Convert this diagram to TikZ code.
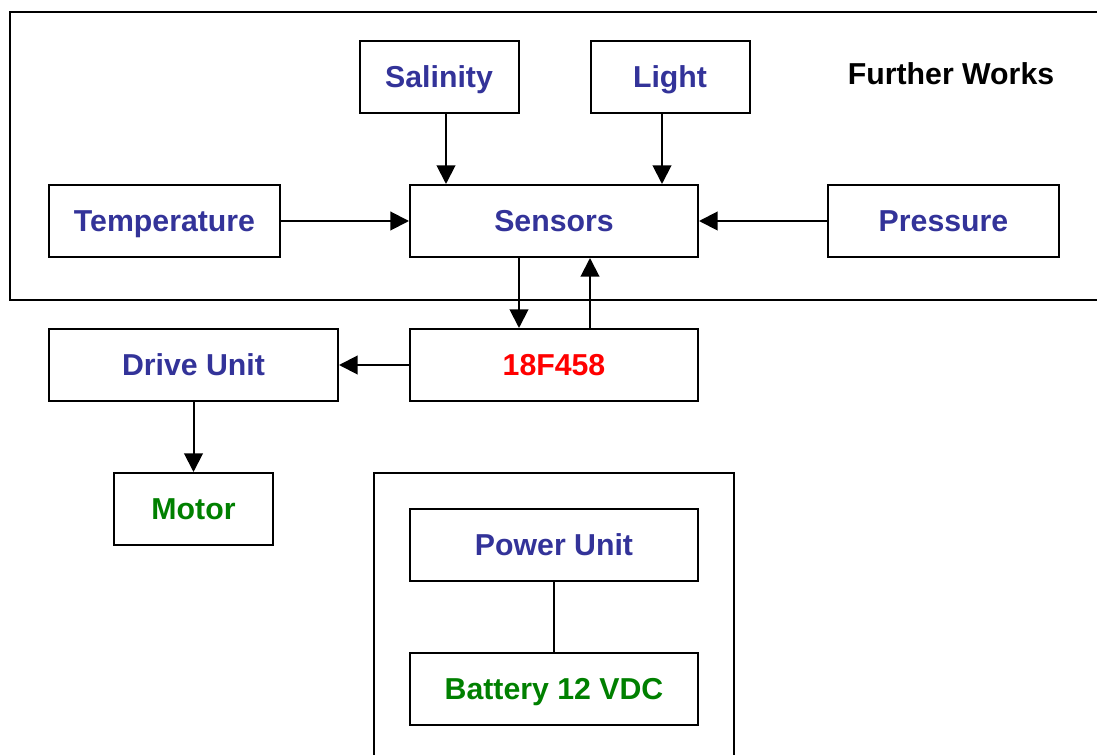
\documentclass[tikz,border=0pt]{standalone}
\usepackage{fontspec}
\setmainfont{Liberation Sans}
\usepackage{xcolor}
\definecolor{hwblue}{RGB}{51,51,153}
\definecolor{hwred}{RGB}{255,0,0}
\definecolor{hwgreen}{RGB}{0,128,0}
\usetikzlibrary{arrows.meta,positioning}
\tikzset{
  unitbox/.style={draw=black, line width=1.5pt, inner sep=0pt, minimum height=54pt, text height=16.25pt, text depth=0pt, font=\bfseries\fontsize{22.7}{27}\selectfont, text=hwblue},
  flow/.style={-{Triangle[length=14pt,width=14pt]}, line width=1.5pt},
}
\begin{document}
\begin{tikzpicture}[x=0.75pt, y=-0.75pt]
  \useasboundingbox (0,0) rectangle (1097,755);
  \clip (0,0) rectangle (1097,755);

  % Frames
  \draw[line width=1.5pt] (10,12) rectangle (1120,300);
  \draw[line width=1.5pt] (374,473) rectangle (734,780);
  \node[font=\bfseries\fontsize{22.7}{27}\selectfont, text height=16.25pt, text depth=0pt, inner sep=0pt] (fw) at (951,74) {Further Works};

  % Sensor nodes
  \node[unitbox, minimum width=119.25pt] (sal) at (439,77) {Salinity};
  \node[unitbox, minimum width=119.25pt] (light) at (670,77) {Light};
  \node[unitbox, minimum width=173.25pt] (temp) at (164.5,221) {Temperature};
  \node[unitbox, minimum width=216pt] (sens) at (554,221) {Sensors};
  \node[unitbox, minimum width=173.25pt] (pres) at (943.5,221) {Pressure};

  % Controller and drive
  \node[unitbox, minimum width=216pt, text=hwred] (mcu) at (554,365) {18F458};
  \node[unitbox, minimum width=216.75pt] (drive) at (193.5,365) {Drive Unit};
  \node[unitbox, minimum width=119.25pt, text=hwgreen] (motor) at (193.5,509) {Motor};

  % Power supply
  \node[unitbox, minimum width=216pt] (power) at (554,545) {Power Unit};
  \node[unitbox, minimum width=216pt, text=hwgreen] (batt) at (554,689) {Battery 12 VDC};

  % Arrows
  \draw[flow] ([xshift=5.25pt]sal.south) -- ([xshift=5.25pt]sal.south |- sens.north);
  \draw[flow] ([xshift=-6pt]light.south) -- ([xshift=-6pt]light.south |- sens.north);
  \draw[flow] (temp.east) -- (sens.west);
  \draw[flow] (pres.west) -- (sens.east);
  \draw[flow] ([xshift=-26.25pt]sens.south) -- ([xshift=-26.25pt]mcu.north);
  \draw[flow] ([xshift=27pt]mcu.north) -- ([xshift=27pt]sens.south);
  \draw[flow] (mcu.west) -- (drive.east);
  \draw[flow] (drive.south) -- (motor.north);
  \draw[line width=1.5pt] (power.south) -- (batt.north);
\end{tikzpicture}
\end{document}
